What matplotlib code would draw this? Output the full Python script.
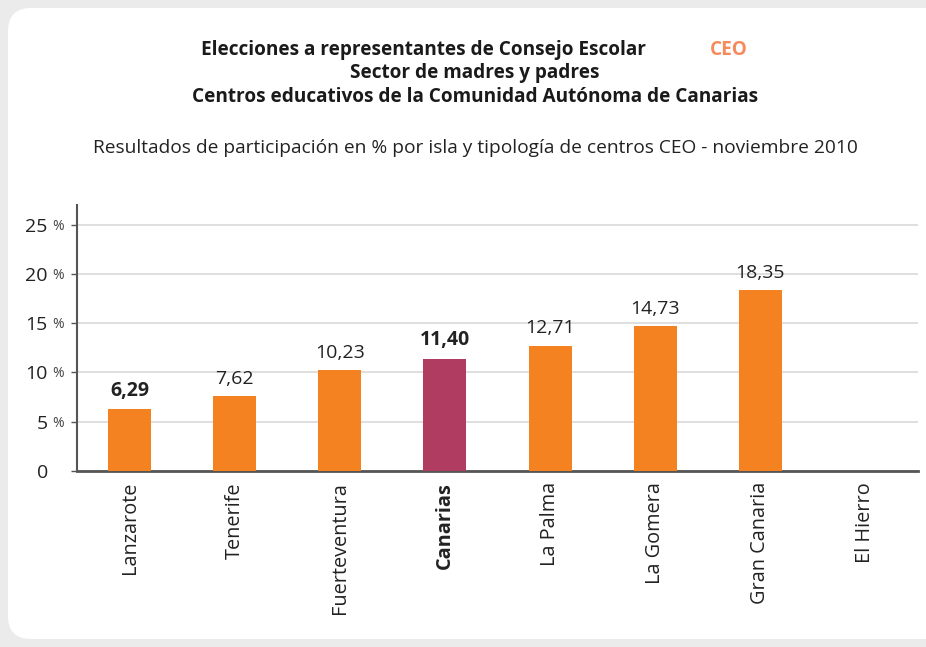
import matplotlib
matplotlib.use("Agg")
import matplotlib.pyplot as plt
from matplotlib.patches import FancyBboxPatch
from matplotlib import font_manager

islas = ["Lanzarote", "Tenerife", "Fuerteventura", "Canarias", "La Palma",
         "La Gomera", "Gran Canaria", "El Hierro"]
participacion = [6.29, 7.62, 10.23, 11.40, 12.71, 14.73, 18.35, None]
etiquetas = ["6,29", "7,62", "10,23", "11,40", "12,71", "14,73", "18,35", ""]
negrita = [True, False, False, True, False, False, False, False]
yticks = [0, 5, 10, 15, 20, 25]

naranja = "#f58220"
morado = "#b03c62"

names = {f.name for f in font_manager.fontManager.ttflist}
body = "Open Sans" if "Open Sans" in names else "DejaVu Sans"
cond = "Liberation Sans Narrow" if "Liberation Sans Narrow" in names else body

fig = plt.figure(figsize=(9.26, 6.47), dpi=100)
fig.patch.set_facecolor("#ebebeb")
panel = FancyBboxPatch((8/926, 8/647), 1.05, 1 - 16/647,
                       boxstyle="round,pad=0,rounding_size=0.025",
                       transform=fig.transFigure, facecolor="white",
                       edgecolor="none", zorder=-5, mutation_aspect=926/647)
fig.patches.append(panel)

# titulos
tfs = 13.7
fig.text(0.457, 1 - 50/647, "Elecciones a representantes de Consejo Escolar",
         ha="center", va="center", fontsize=tfs, fontweight="bold", family=cond, color="#1a1a1a")
fig.text(0.787, 1 - 50/647, "CEO", ha="center", va="center", fontsize=tfs,
         fontweight="bold", family=cond, color="#f58a5a")
fig.text(0.513, 1 - 73/647, "Sector de madres y padres", ha="center", va="center",
         fontsize=tfs, fontweight="bold", family=cond, color="#1a1a1a")
fig.text(0.513, 1 - 97/647, "Centros educativos de la Comunidad Autónoma de Canarias",
         ha="center", va="center", fontsize=tfs, fontweight="bold", family=cond, color="#1a1a1a")
fig.text(0.513, 1 - 148/647,
         "Resultados de participación en % por isla y tipología de centros CEO - noviembre 2010",
         ha="center", va="center", fontsize=13.8, family=body, color="#222222")

ax = fig.add_axes([77/926, 1 - 471/647, (918 - 77)/926, (471 - 205)/647], zorder=2)
ax.set_facecolor("none")

x = list(range(len(islas)))
alturas = [v if v is not None else 0 for v in participacion]
colores = [morado if i == "Canarias" else naranja for i in islas]
barras = ax.bar(x, alturas, width=0.41, color=colores, zorder=3)

for xi, v, lab, b in zip(x, alturas, etiquetas, negrita):
    if lab:
        ax.annotate(lab, (xi, v), xytext=(0, 6), textcoords="offset points",
                    ha="center", va="bottom", fontsize=14, family=body,
                    fontweight="bold" if b else "normal", color="#222222")

ax.set_xlim(-0.5, 7.5)
ax.set_ylim(0, 27)
ax.set_yticks(yticks)
ax.set_yticklabels([str(t) for t in yticks], fontsize=14, family=body, color="#222222")
ax.tick_params(axis="y", length=4.5, width=1, color="#555555", pad=16.5)
for t in yticks[1:]:
    ax.annotate("%", (0, t), xycoords=("axes fraction", "data"), xytext=(-9.5, -1),
                textcoords="offset points", ha="right", va="center",
                fontsize=10, family=body, color="#444444")

ax.set_xticks(x)
ax.set_xticklabels(islas, rotation=90, fontsize=14.3, family=body, color="#222222")
for lbl in ax.get_xticklabels():
    if lbl.get_text() == "Canarias":
        lbl.set_fontweight("bold")
ax.tick_params(axis="x", length=0, pad=8)

ax.yaxis.grid(True, color="#d9d9d9", linewidth=1.2, zorder=0)
ax.set_axisbelow(True)
for s in ["top", "right"]:
    ax.spines[s].set_visible(False)
ax.spines["left"].set_color("#555555")
ax.spines["left"].set_linewidth(1.5)
ax.spines["bottom"].set_color("#555555")
ax.spines["bottom"].set_linewidth(2)

fig.savefig("out.png", dpi=100, facecolor=fig.get_facecolor())
